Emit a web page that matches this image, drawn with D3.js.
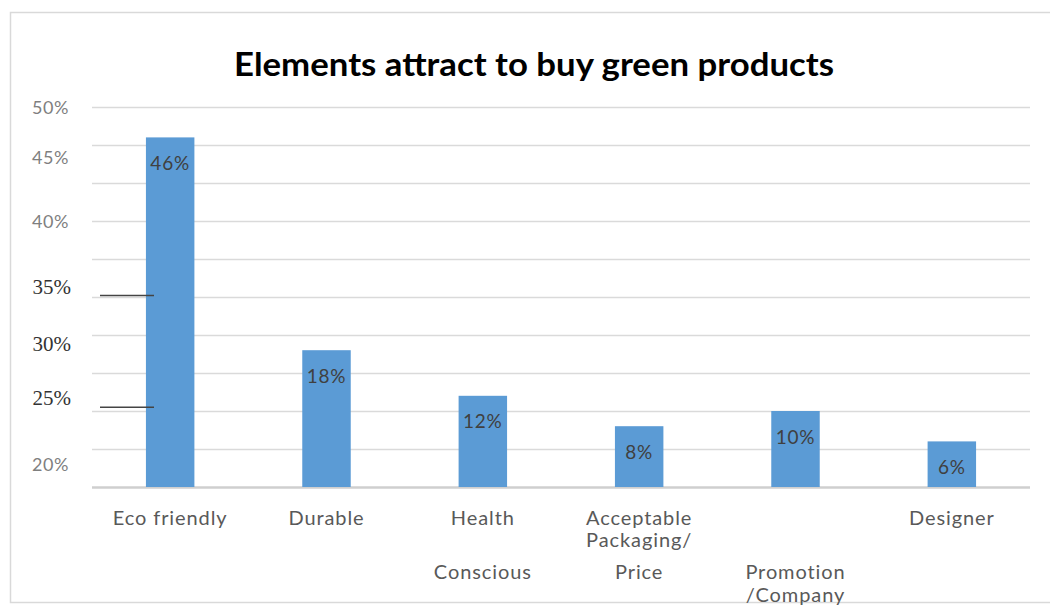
<!DOCTYPE html>
<html>
<head>
<meta charset="utf-8">
<script src="https://cdn.jsdelivr.net/npm/d3@7"></script>
<style>
  html, body { margin: 0; padding: 0; background: #fff; }
  svg { display: block; }
</style>
</head>
<body>
<svg id="chart" width="1050" height="605"></svg>
<script>
// ---- data ----
const title = "Elements attract to buy green products";
const categories = ["Eco friendly", "Durable", "Health Conscious", "Acceptable Packaging/ Price", "Promotion /Company", "Designer"];
const categoryLines = [
  ["Eco friendly"],
  ["Durable"],
  ["Health", "", "Conscious"],
  ["Acceptable", "Packaging/", "Price"],
  ["", "", "Promotion", "/Company"],
  ["Designer"]
];
const values = [0.46, 0.18, 0.12, 0.08, 0.10, 0.06];
const valueLabels = ["46%", "18%", "12%", "8%", "10%", "6%"];
const gridTicks = [0, 0.05, 0.10, 0.15, 0.20, 0.25, 0.30, 0.35, 0.40, 0.45, 0.50];
// tick labels as printed on the picture (they do not sit on the gridlines)
const tickLabels = ["50%", "45%", "40%", "35%", "30%", "25%", "20%"];
const tickLabelAt = [0.499, 0.433, 0.349, 0.264, 0.189, 0.118, 0.030];
const tickLabelSerif = [false, false, false, true, true, true, false];
// two short dark marks drawn over the axis area
const markAt = [0.252, 0.105];

// ---- layout ----
const svg = d3.select("#chart");
const x = d3.scaleBand().domain(categories).range([92, 1030]).paddingInner(0.69).paddingOuter(0.345);
const y = d3.scaleLinear().domain([0, 0.5]).range([487, 107]);

// frame
svg.append("path")
  .attr("d", "M1050,12.5 H10.5 V602.5 H1050")
  .attr("fill", "none").attr("stroke", "#d9d9d9").attr("stroke-width", 1.5);

// title
svg.append("text")
  .attr("x", 534).attr("y", 76)
  .attr("text-anchor", "middle")
  .attr("font-family", "Lato, 'Open Sans', sans-serif")
  .attr("font-weight", "bold")
  .attr("font-size", 33)
  .attr("textLength", 600)
  .attr("lengthAdjust", "spacingAndGlyphs")
  .attr("fill", "#000")
  .text(title);

// gridlines
svg.append("g").selectAll("line")
  .data(gridTicks)
  .join("line")
  .attr("x1", 92).attr("x2", 1030)
  .attr("y1", d => Math.round(y(d)) + 0.5).attr("y2", d => Math.round(y(d)) + 0.5)
  .attr("stroke", d => d === 0 ? "#cfcfcf" : "#dadada")
  .attr("stroke-width", d => d === 0 ? 2.5 : 1.6);

// bars
svg.append("g").selectAll("rect")
  .data(values)
  .join("rect")
  .attr("x", (d, i) => x(categories[i]))
  .attr("width", x.bandwidth())
  .attr("y", d => y(d))
  .attr("height", d => y(0) - y(d))
  .attr("fill", "#5b9bd5");

// value labels
svg.append("g").selectAll("text")
  .data(values)
  .join("text")
  .attr("x", (d, i) => x(categories[i]) + x.bandwidth() / 2)
  .attr("y", d => y(d) + 26)
  .attr("dy", "0.35em")
  .attr("text-anchor", "middle")
  .attr("font-family", "Lato, 'Open Sans', sans-serif")
  .attr("font-size", 19)
  .attr("letter-spacing", 0.8)
  .attr("fill", "#404040")
  .text((d, i) => valueLabels[i]);

// category labels
const rowY = [518, 540, 572, 595];
const cat = svg.append("g");
categoryLines.forEach((lines, i) => {
  lines.forEach((ln, r) => {
    if (!ln) return;
    cat.append("text")
      .attr("x", x(categories[i]) + x.bandwidth() / 2)
      .attr("y", rowY[r])
      .attr("dy", "0.35em")
      .attr("text-anchor", "middle")
      .attr("font-family", "Lato, 'Open Sans', sans-serif")
      .attr("font-size", 20)
      .attr("letter-spacing", 0.9)
      .attr("fill", "#595959")
      .text(ln);
  });
});

// y tick labels
svg.append("g").selectAll("text")
  .data(tickLabels)
  .join("text")
  .attr("x", (d, i) => tickLabelSerif[i] ? 71 : 69)
  .attr("y", (d, i) => y(tickLabelAt[i]))
  .attr("dy", "0.35em")
  .attr("text-anchor", "end")
  .attr("font-family", (d, i) => tickLabelSerif[i] ? "'Liberation Serif', 'DejaVu Serif', serif" : "Lato, 'Open Sans', sans-serif")
  .attr("font-size", (d, i) => tickLabelSerif[i] ? 21 : 18)
  .attr("letter-spacing", (d, i) => tickLabelSerif[i] ? 0 : 0.6)
  .attr("fill", (d, i) => tickLabelSerif[i] ? "#333" : "#7f7f7f")
  .text(d => d);

// dark marks
svg.append("g").selectAll("line")
  .data(markAt)
  .join("line")
  .attr("x1", 100).attr("x2", 154)
  .attr("y1", d => y(d)).attr("y2", d => y(d))
  .attr("stroke", "#444").attr("stroke-width", 1.5);
</script>
</body>
</html>
